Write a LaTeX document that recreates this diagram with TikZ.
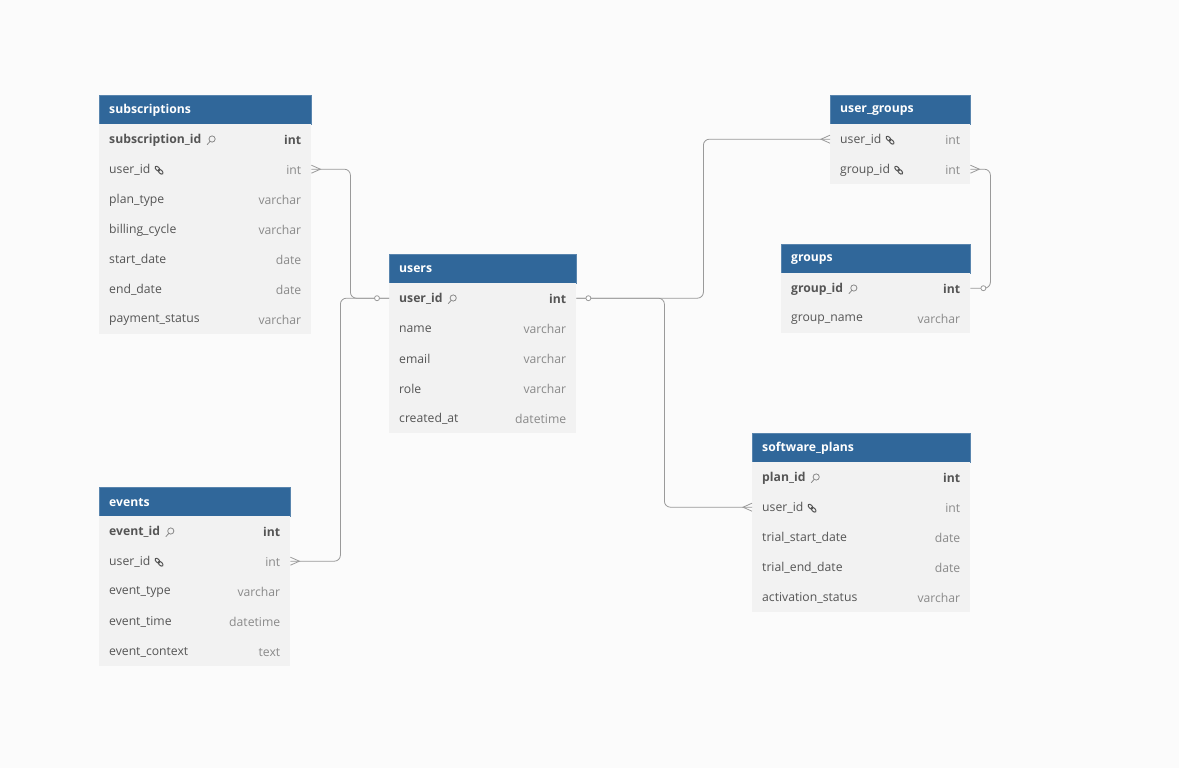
\documentclass[tikz,border=0pt]{standalone}
\usepackage{fontspec}
\setmainfont{Open Sans}
\usetikzlibrary{calc}
\definecolor{hdblue}{HTML}{30679A}
\definecolor{rowgray}{HTML}{F2F2F2}
\definecolor{fieldgray}{HTML}{555555}
\definecolor{typegray}{HTML}{8A8A8A}
\definecolor{relgray}{HTML}{9A9A9A}
\definecolor{bggray}{HTML}{FBFBFB}

\tikzset{
    tblhead/.style={fill=hdblue,draw=hdblue!80!white,inner sep=0,minimum height=29pt,anchor=north west},
    tbltitle/.style={anchor=west,inner sep=0,text=white,font=\fontsize{12.2}{14}\selectfont\bfseries},
    tblrow/.style={fill=rowgray,inner sep=0,minimum height=30pt,anchor=north west},
    fname/.style={anchor=west,inner sep=0,text=fieldgray,font=\fontsize{12.2}{14}\selectfont},
    ftype/.style={anchor=east,inner sep=0,text=typegray,font=\fontsize{12.2}{14}\selectfont},
    rel/.style={draw=relgray,line width=0.8pt,rounded corners=6pt},
    onemark/.style={circle,draw=relgray,fill=white,line width=0.8pt,inner sep=0,minimum size=5pt},
}

% table: name, x, y, width, title, rows field/type/kind (p = pk, f = fk, n = none)
\newcommand{\erdtable}[6]{%
    \node[tblhead,minimum width=#4pt] (#1) at (#2,#3) {};
    \draw[white!70!hdblue,line width=0.6pt] (#1.south west) -- (#1.south east);
    \node[tbltitle] (#1-t) at ([xshift=10pt,yshift=-0.5pt]#1.west) {#5};
    \foreach \f/\t/\k [count=\i] in {#6} {
        \node[tblrow,minimum width=#4pt] (#1-\i) at (#2,{#3+29+30*(\i-1)}) {};
        \if p\k
            \node[fname,font=\fontsize{12.2}{14}\selectfont\bfseries] (#1-\i-f) at ([xshift=10pt,yshift=-1pt]#1-\i.west) {\f};
            \node[ftype,text=fieldgray,font=\fontsize{12.2}{14}\selectfont\bfseries] at ([xshift=-10pt,yshift=-1pt]#1-\i.east) {\t};
            \erdkey{#1-\i-f}
        \else
            \node[fname] (#1-\i-f) at ([xshift=10pt,yshift=-1pt]#1-\i.west) {\f};
            \node[ftype] at ([xshift=-10pt,yshift=-1pt]#1-\i.east) {\t};
            \if f\k \erdlink{#1-\i-f}\fi
        \fi
    }
}
\newcommand{\erdkey}[1]{%
    \begin{scope}[shift={(#1.east)}]
        \draw[typegray,line width=0.8pt] (5.5,4.5) -- (8.5,1.2);
        \draw[typegray,line width=0.8pt] (10.5,-1.2) circle (3.1pt);
    \end{scope}
}
\newcommand{\erdlink}[1]{%
    \begin{scope}[shift={(#1.east)},shift={(8.5,0)},rotate=-45]
        \draw[fieldgray,line width=1pt] (-2.2,0) ellipse (2.9pt and 1.7pt);
        \draw[fieldgray,line width=1pt] (2.2,0) ellipse (2.9pt and 1.7pt);
    \end{scope}
}
% crow's foot: anchor, side (1 = east, -1 = west)
\newcommand{\crow}[2]{%
    \draw[relgray,line width=0.8pt] ([yshift=4pt]#1) -- ([xshift=#2*9pt]#1) -- ([yshift=-4pt]#1);
}

\begin{document}
\begin{tikzpicture}[x=1pt,y=-1pt]
    \fill[bggray] (0,0) rectangle (1179,768);
    \useasboundingbox (0,0) rectangle (1179,768);

    % Tables
    \erdtable{subscriptions}{99}{95}{212}{subscriptions}{subscription\_id/int/p, user\_id/int/f, plan\_type/varchar/n, billing\_cycle/varchar/n, start\_date/date/n, end\_date/date/n, payment\_status/varchar/n}
    \erdtable{users}{389}{254}{187}{users}{user\_id/int/p, name/varchar/n, email/varchar/n, role/varchar/n, created\_at/datetime/n}
    \erdtable{user_groups}{830}{95}{140}{user\_groups}{user\_id/int/f, group\_id/int/f}
    \erdtable{groups}{781}{244}{189}{groups}{group\_id/int/p, group\_name/varchar/n}
    \erdtable{software_plans}{752}{433}{218}{software\_plans}{plan\_id/int/p, user\_id/int/f, trial\_start\_date/date/n, trial\_end\_date/date/n, activation\_status/varchar/n}
    \erdtable{events}{99}{487}{191}{events}{event\_id/int/p, user\_id/int/f, event\_type/varchar/n, event\_time/datetime/n, event\_context/text/n}

    % Relations
    \draw[rel] (subscriptions-2.east) -- ++(39,0) |- (users-1.west);
    \draw[rel] (events-2.east) -- ++(50,0) |- (users-1.west);
    \draw[rel] (users-1.east) -- ++(127,0) |- (user_groups-1.west);
    \draw[rel] (users-1.east) -- ++(88,0) |- (software_plans-2.west);
    \draw[rel] (user_groups-2.east) -- ++(20,0) |- (groups-1.east);

    % Ends
    \crow{subscriptions-2.east}{1}
    \crow{events-2.east}{1}
    \crow{user_groups-1.west}{-1}
    \crow{software_plans-2.west}{-1}
    \crow{user_groups-2.east}{1}
    \node[onemark] at ([xshift=-12pt]users-1.west) {};
    \node[onemark] at ([xshift=12pt]users-1.east) {};
    \node[onemark] at ([xshift=13pt]groups-1.east) {};
\end{tikzpicture}
\end{document}
